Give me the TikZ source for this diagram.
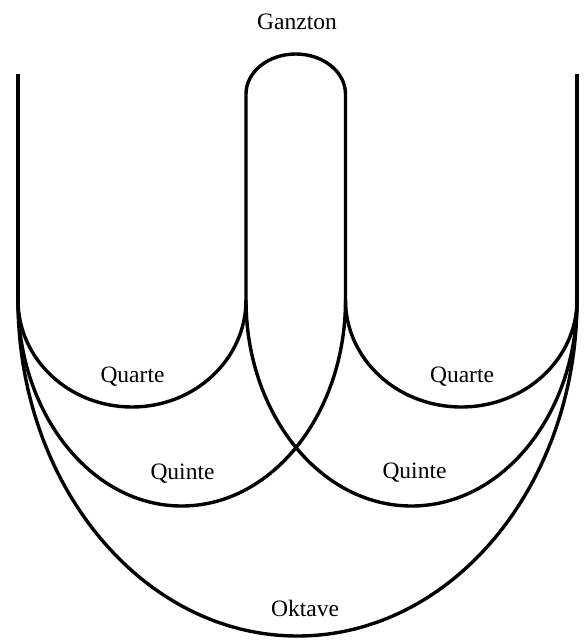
\documentclass[tikz,border=0pt]{standalone}
\usepackage{fontspec}
\setmainfont{Liberation Serif}
\begin{document}
\begin{tikzpicture}[x=1pt,y=1pt,
  curve/.style={line width=3.4pt,line join=round},
  lbl/.style={font=\fontsize{23.5}{28}\selectfont,anchor=base,inner sep=0pt}]
\useasboundingbox (0,-641) rectangle (585,0);
\coordinate (LT) at (18,-74);
\coordinate (LB) at (18,-300);
\coordinate (RT) at (577,-74);
\coordinate (RB) at (577,-300);
\coordinate (ML) at (246,-300);
\coordinate (MR) at (345.5,-300);
\coordinate (MLT) at (246,-94);
% outer verticals
\draw[curve] (LT) -- (LB);
\draw[curve] (RT) -- (RB);
% middle Ganzton loop
\draw[curve] (ML) -- (MLT) arc[start angle=180,end angle=0,x radius=49.75,y radius=40] -- (MR);
% left arcs
\draw[curve] (LB) arc[start angle=180,end angle=360,x radius=114,y radius=107];
\draw[curve] (LB) arc[start angle=180,end angle=360,x radius=163.75,y radius=206];
\draw[curve] (LB) arc[start angle=180,end angle=360,x radius=279.5,y radius=336];
% right arcs
\draw[curve] (MR) arc[start angle=180,end angle=360,x radius=115.75,y radius=107];
\draw[curve] (ML) arc[start angle=180,end angle=360,x radius=165.5,y radius=206];
% labels
\node[lbl] (ganz) at (297,-29) {Ganzton};
\node[lbl] (quartL) at (132.5,-382) {Quarte};
\node[lbl] (quartR) at (462,-382) {Quarte};
\node[lbl] (quinL) at (182.5,-479) {Quinte};
\node[lbl] (quinR) at (414.5,-478) {Quinte};
\node[lbl] (okt) at (305,-616) {Oktave};
\end{tikzpicture}
\end{document}
